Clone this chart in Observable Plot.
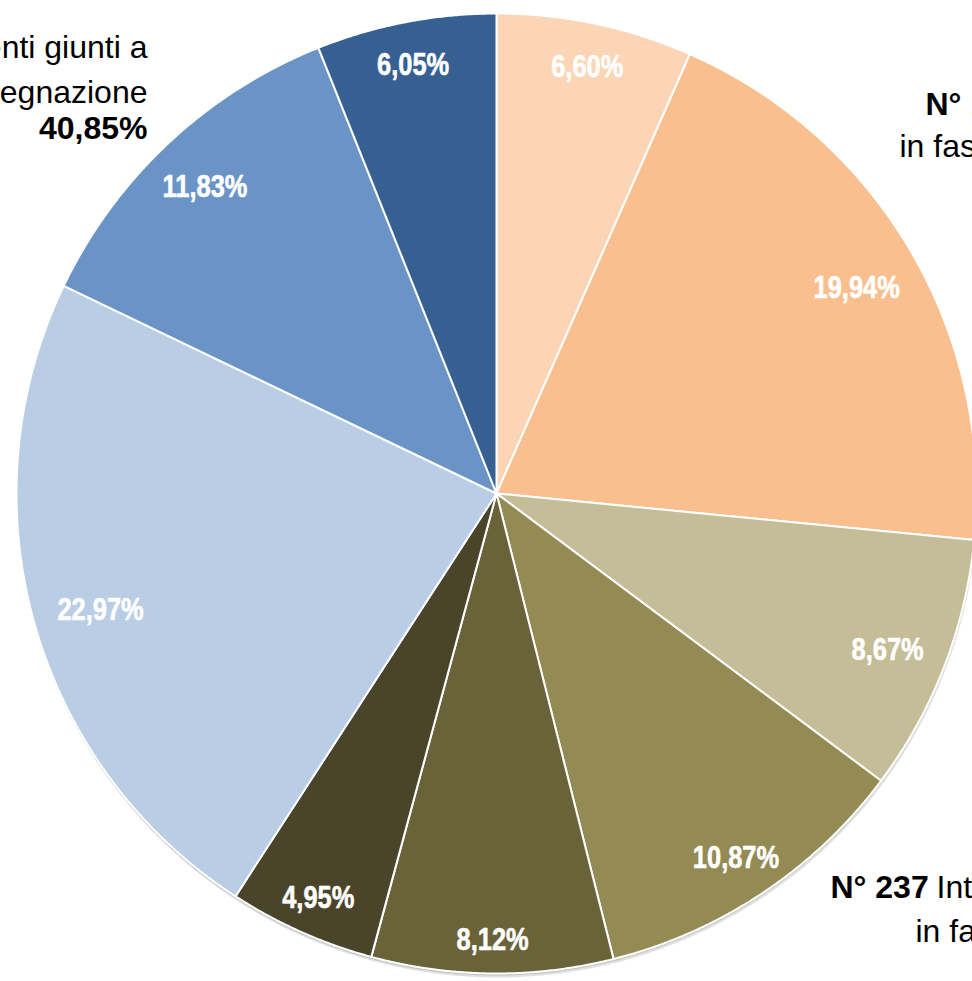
<!DOCTYPE html>
<html>
<head>
<meta charset="utf-8">
<script src="https://cdn.jsdelivr.net/npm/d3@7"></script>
<script src="https://cdn.jsdelivr.net/npm/@observablehq/plot@0.6"></script>
<style>
  html, body { margin: 0; padding: 0; background: #fff; overflow: hidden; }
  #chart svg { display: block; }
</style>
</head>
<body>
<div id="chart"></div>
<script>
// ---- data (clockwise from 12 o'clock) ----
const sliceValues = [6.60, 19.94, 8.67, 10.87, 8.12, 4.95, 22.97, 11.83, 6.05];
const sliceLabels = ["6,60%", "19,94%", "8,67%", "10,87%", "8,12%", "4,95%", "22,97%", "11,83%", "6,05%"];
const sliceColors = ["#FBD5B5", "#F9BF8F", "#C4BD97", "#948A54", "#6A633A", "#4A442A", "#B9CDE5", "#6A94C6", "#376092"];

// annotation texts (partly outside the picture)
const noteTopLeft = ["Interventi giunti a", "assegnazione"];
const noteTopLeftPct = ["40,85%"];
const noteTopRightBold = ["N° 193"];
const noteTopRight2 = ["in fase"];
const noteBottomBold = ["N° 237"];
const noteBottom1 = ["Interventi"];
const noteBottom2 = ["in fase"];

// ---- layout ----
const W = 972, H = 981;
const cx = 496, cy = 493, R = 480;
const labelFont = "'Liberation Sans', Arial, sans-serif";
const labelSize = 31;
const narrow = 0.82; // horizontal squeeze to imitate a narrow face
const noteFont = "'Liberation Sans', Arial, sans-serif";
const noteSize = 32;

// measure label widths with the actual font
const ctx = document.createElement("canvas").getContext("2d");
ctx.font = `bold ${labelSize}px ${labelFont}`;

const total = d3.sum(sliceValues);
const slices = [];
const labelsData = [];
let acc = 0;
sliceValues.forEach((v, i) => {
  const a0 = acc / total * 2 * Math.PI;
  const a1 = (acc + v) / total * 2 * Math.PI;
  acc += v;
  slices.push({x: 0, y: 0, key: i, color: sliceColors[i]});
  const n = Math.max(2, Math.ceil((a1 - a0) / 0.004));
  for (let k = 0; k <= n; k++) {
    const t = a0 + (a1 - a0) * k / n;
    slices.push({x: Math.sin(t), y: Math.cos(t), key: i, color: sliceColors[i]});
  }
  slices.push({x: 0, y: 0, key: i, color: sliceColors[i]});
  // inside-end label placement
  const m = (a0 + a1) / 2;
  const w = ctx.measureText(sliceLabels[i]).width * narrow + 10;
  const h = 30;
  const s2 = Math.sin(m) ** 2;
  const half = (w / 2) * s2 + (h / 2) * (1 - s2);
  const d = (R - 23 - half) / R;
  labelsData.push({x: d * Math.sin(m), y: d * Math.cos(m), label: sliceLabels[i]});
});

// outline for shadow
const outline = d3.range(0, 721).map(k => ({x: Math.sin(k / 720 * 2 * Math.PI), y: Math.cos(k / 720 * 2 * Math.PI)}));

const note = (data, opts) => Plot.text(data, {
  text: d => d, frameAnchor: "top-left", lineAnchor: "bottom",
  fontFamily: noteFont, fontSize: noteSize, fill: "#000", ...opts
});

const chart = Plot.plot({
  width: W, height: H,
  margin: 0,
  style: {overflow: "hidden", background: "#fff"},
  x: {domain: [-1, 1], range: [cx - R, cx + R], axis: null},
  y: {domain: [-1, 1], range: [cy + R, cy - R], axis: null},
  marks: [
    Plot.line(outline, {x: "x", y: "y", fill: "#999", fillOpacity: 0.3, stroke: "none", dy: 4, dx: 1}),
    Plot.line(outline, {x: "x", y: "y", fill: "#777", fillOpacity: 0.3, stroke: "none", dy: 2, dx: 0}),
    Plot.line(slices, {x: "x", y: "y", z: "key", fill: "color", stroke: "#fff", strokeWidth: 2, strokeLinejoin: "round", curve: "linear"}),
    Plot.text(labelsData, {x: "x", y: "y", dy: 5, text: "label", fill: "#fff", stroke: "#fff", strokeWidth: 0.6, fontWeight: "bold", fontSize: labelSize, fontFamily: labelFont, textAnchor: "middle"}),
    // top-left note
    note([noteTopLeft[0]], {dx: 147, dy: 57, textAnchor: "end"}),
    note([noteTopLeft[1]], {dx: 147, dy: 102, textAnchor: "end"}),
    note(noteTopLeftPct, {dx: 147, dy: 138, textAnchor: "end", fontWeight: "bold"}),
    // top-right note
    note(noteTopRightBold, {dx: 925, dy: 114, textAnchor: "start", fontWeight: "bold"}),
    note(noteTopRight2, {dx: 899, dy: 156, textAnchor: "start"}),
    // bottom-right note
    note(noteBottomBold, {dx: 830, dy: 897, textAnchor: "start", fontWeight: "bold"}),
    note(noteBottom1, {dx: 936, dy: 897, textAnchor: "start"}),
    note(noteBottom2, {dx: 915, dy: 941, textAnchor: "start"})
  ]
});
document.getElementById("chart").appendChild(chart);

// squeeze the slice labels horizontally (narrow bold face look)
d3.select(chart).selectAll("text")
  .filter(function () { return sliceLabels.includes(this.textContent); })
  .each(function () {
    const w = this.getComputedTextLength();
    this.setAttribute("textLength", (w * narrow).toFixed(1));
    this.setAttribute("lengthAdjust", "spacingAndGlyphs");
  });
</script>
</body>
</html>
